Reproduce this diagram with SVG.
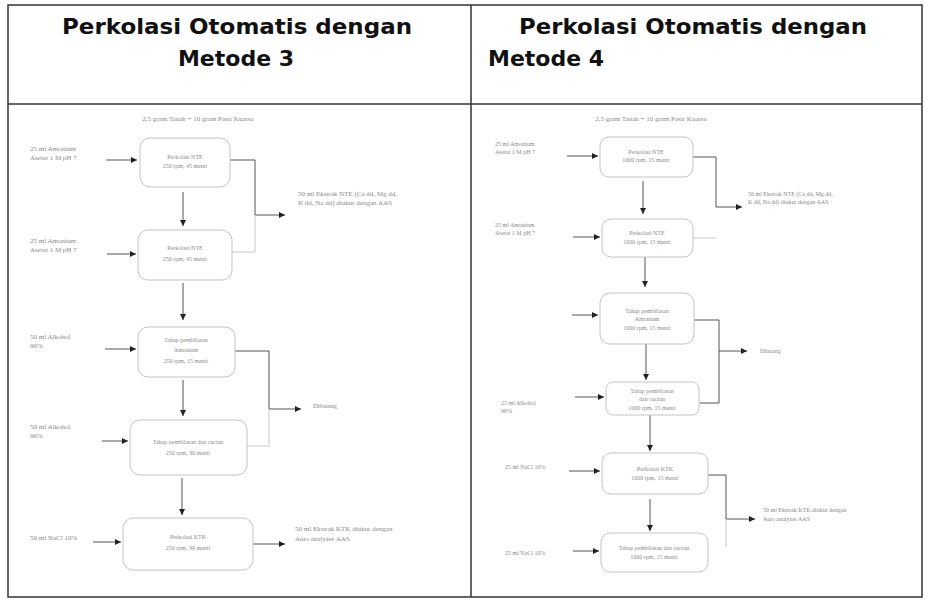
<svg xmlns="http://www.w3.org/2000/svg" width="928" height="604" viewBox="0 0 928 604">
<style>
.title{font-family:"DejaVu Sans",Verdana,sans-serif;font-weight:bold;font-size:22px;fill:#111}
.lbl{font-family:"Liberation Serif",serif;font-size:7px;fill:#8a8a8a}
.lbs{font-family:"Liberation Serif",serif;font-size:6px;fill:#8a8a8a}
.box{fill:#fff;stroke:#c4c4c4;stroke-width:1}
.bt{font-family:"Liberation Serif",serif;font-size:6px;fill:#8a8a8a;text-anchor:middle}
.con{fill:none;stroke:#555;stroke-width:1}
.faint{fill:none;stroke:#c8c8c8;stroke-width:1}
.arr{marker-end:url(#ah)}
.frame{fill:none;stroke:#333;stroke-width:1.5}
</style>
<defs>
<marker id="ah" markerUnits="userSpaceOnUse" markerWidth="6" markerHeight="6" refX="6" refY="3" orient="auto">
<path d="M0,0 L6,3 L0,6 z" fill="#222"/>
</marker>
</defs>
<rect width="928" height="604" fill="#fff"/>
<g id="table">
<rect class="frame" x="8" y="5" width="914" height="592"/>
<line class="frame" x1="8" y1="104" x2="922" y2="104" stroke-width="2"/>
<line class="frame" x1="471" y1="5" x2="471" y2="597" stroke-width="2"/>
<text class="title" x="237" y="34" text-anchor="middle" textLength="350" lengthAdjust="spacingAndGlyphs">Perkolasi Otomatis dengan</text>
<text class="title" x="236" y="66" text-anchor="middle">Metode 3</text>
<text class="title" x="693" y="34" text-anchor="middle" textLength="348" lengthAdjust="spacingAndGlyphs">Perkolasi Otomatis dengan</text>
<text class="title" x="488" y="66">Metode 4</text>
</g>
<g id="connectors">
<path class="con arr" d="M106,160 H137"/>
<path class="con arr" d="M107,254 H136"/>
<path class="con arr" d="M105,349 H136"/>
<path class="con arr" d="M102,441 H128"/>
<path class="con arr" d="M93,542 H121"/>
<path class="con arr" d="M183,192 V226"/>
<path class="con arr" d="M183,283 V320"/>
<path class="con arr" d="M183,380 V416"/>
<path class="con arr" d="M182,478 V515"/>
<path class="con arr" d="M230,160 H255 V215 H285"/>
<path class="faint" d="M232,252 H255 V215"/>
<path class="con arr" d="M235,351 H269 V409 H301"/>
<path class="faint" d="M247,446 H269 V409"/>
<path class="con arr" d="M253,544 H285"/>
<path class="con arr" d="M567,156 H598"/>
<path class="con arr" d="M573,237 H600"/>
<path class="con arr" d="M572,315 H598"/>
<path class="con arr" d="M575,397 H604"/>
<path class="con arr" d="M569,471 H600"/>
<path class="con arr" d="M573,551 H599"/>
<path class="con arr" d="M643,181 V214"/>
<path class="con arr" d="M645,257 V287"/>
<path class="con arr" d="M646,344 V380"/>
<path class="con arr" d="M650,415 V451"/>
<path class="con arr" d="M650,499 V531"/>
<path class="con arr" d="M693,157 H716 V207 H742"/>
<path class="faint" d="M693,238 H716"/>
<path class="con" d="M694,320 H719 V403 H700"/>
<path class="con arr" d="M719,351 H747"/>
<path class="con arr" d="M708,475 H726 V519 H755"/>
<path class="faint" d="M726,519 V547"/>
</g>
<g id="left-top"><text class="lbl" x="198" y="121" text-anchor="middle" font-size="8">2,5 gram Tanah + 10 gram Pasir Kuarsa</text></g>
<g id="l-in1"><text class="lbl" x="30" y="151">25 ml Amonium</text><text class="lbl" x="30" y="160">Asetat 1 M pH 7</text></g>
<g id="l-n1"><rect class="box" x="140" y="138" width="90" height="49" rx="10"/><text class="bt" x="185" y="159">Perkolasi NTE</text><text class="bt" x="185" y="168">250 rpm, 45 menit</text></g>
<g id="l-in2"><text class="lbl" x="30" y="243">25 ml Amonium</text><text class="lbl" x="30" y="252">Asetat 1 M pH 7</text></g>
<g id="l-n2"><rect class="box" x="138" y="230" width="94" height="50" rx="10"/><text class="bt" x="185" y="250">Perkolasi NTE</text><text class="bt" x="185" y="261">250 rpm, 45 menit</text></g>
<g id="l-out1"><text class="lbl" x="298" y="196">50 ml Ekstrak NTE (Ca dd, Mg dd,</text><text class="lbl" x="298" y="205">K dd, Na dd) diukur dengan AAS</text></g>
<g id="l-in3"><text class="lbl" x="30" y="339">50 ml Alkohol</text><text class="lbl" x="30" y="348">96%</text></g>
<g id="l-n3"><rect class="box" x="138" y="327" width="97" height="50" rx="10"/><text class="bt" x="186" y="342">Tahap pembilasan</text><text class="bt" x="186" y="352">Amonium</text><text class="bt" x="186" y="363">250 rpm, 15 menit</text></g>
<g id="l-out2"><text class="lbl" x="313" y="408">Dibuang</text></g>
<g id="l-in4"><text class="lbl" x="30" y="429">50 ml Alkohol</text><text class="lbl" x="30" y="438">96%</text></g>
<g id="l-n4"><rect class="box" x="130" y="420" width="117" height="55" rx="10"/><text class="bt" x="188" y="444">Tahap pembilasan dan cucian</text><text class="bt" x="188" y="455">250 rpm, 30 menit</text></g>
<g id="l-in5"><text class="lbl" x="30" y="540">50 ml NaCl 10%</text></g>
<g id="l-n5"><rect class="box" x="123" y="518" width="130" height="52" rx="10"/><text class="bt" x="188" y="539">Perkolasi KTK</text><text class="bt" x="188" y="550">250 rpm, 30 menit</text></g>
<g id="l-out3"><text class="lbl" x="295" y="531">50 ml Ekstrak KTK diukur dengan</text><text class="lbl" x="295" y="541">Auto analyzer AAS</text></g>
<g id="right-top"><text class="lbl" x="651" y="121" text-anchor="middle" font-size="7">2,5 gram Tanah + 10 gram Pasir Kuarsa</text></g>
<g id="r-in1"><text class="lbs" x="495" y="146">25 ml Amonium</text><text class="lbs" x="495" y="154">Asetat 1 M pH 7</text></g>
<g id="r-n1"><rect class="box" x="600" y="137" width="93" height="40" rx="9"/><text class="bt" x="646" y="154">Perkolasi NTE</text><text class="bt" x="646" y="162">1000 rpm, 15 menit</text></g>
<g id="r-out1"><text class="lbs" x="748" y="196">50 ml Ekstrak NTE (Ca dd, Mg dd,</text><text class="lbs" x="748" y="204">K dd, Na dd) diukur dengan AAS</text></g>
<g id="r-in2"><text class="lbs" x="495" y="227">25 ml Amonium</text><text class="lbs" x="495" y="235">Asetat 1 M pH 7</text></g>
<g id="r-n2"><rect class="box" x="602" y="219" width="91" height="38" rx="9"/><text class="bt" x="647" y="235">Perkolasi NTE</text><text class="bt" x="647" y="244">1000 rpm, 15 menit</text></g>
<g id="r-n3"><rect class="box" x="600" y="293" width="94" height="51" rx="10"/><text class="bt" x="647" y="313">Tahap pembilasan</text><text class="bt" x="647" y="321">Amonium</text><text class="bt" x="647" y="330">1000 rpm, 15 menit</text></g>
<g id="r-out2"><text class="lbs" x="760" y="353">Dibuang</text></g>
<g id="r-in4"><text class="lbs" x="501" y="405">25 ml Alkohol</text><text class="lbs" x="501" y="413">96%</text></g>
<g id="r-n4"><rect class="box" x="606" y="382" width="93" height="33" rx="7" stroke="#d0d0d0"/><text class="bt" x="652" y="393">Tahap pembilasan</text><text class="bt" x="652" y="401">dan cucian</text><text class="bt" x="652" y="410">1000 rpm, 15 menit</text></g>
<g id="r-in5"><text class="lbs" x="505" y="469">25 ml NaCl 10%</text></g>
<g id="r-n5"><rect class="box" x="602" y="453" width="106" height="41" rx="9"/><text class="bt" x="655" y="471">Perkolasi KTK</text><text class="bt" x="655" y="480">1000 rpm, 15 menit</text></g>
<g id="r-out3"><text class="lbs" x="763" y="512">50 ml Ekstrak KTK diukur dengan</text><text class="lbs" x="763" y="521">Auto analyzer AAS</text></g>
<g id="r-in6"><text class="lbs" x="505" y="555">25 ml NaCl 10%</text></g>
<g id="r-n6"><rect class="box" x="601" y="533" width="107" height="39" rx="9"/><text class="bt" x="654" y="550">Tahap pembilasan dan cucian</text><text class="bt" x="654" y="559">1000 rpm, 15 menit</text></g>
</svg>
